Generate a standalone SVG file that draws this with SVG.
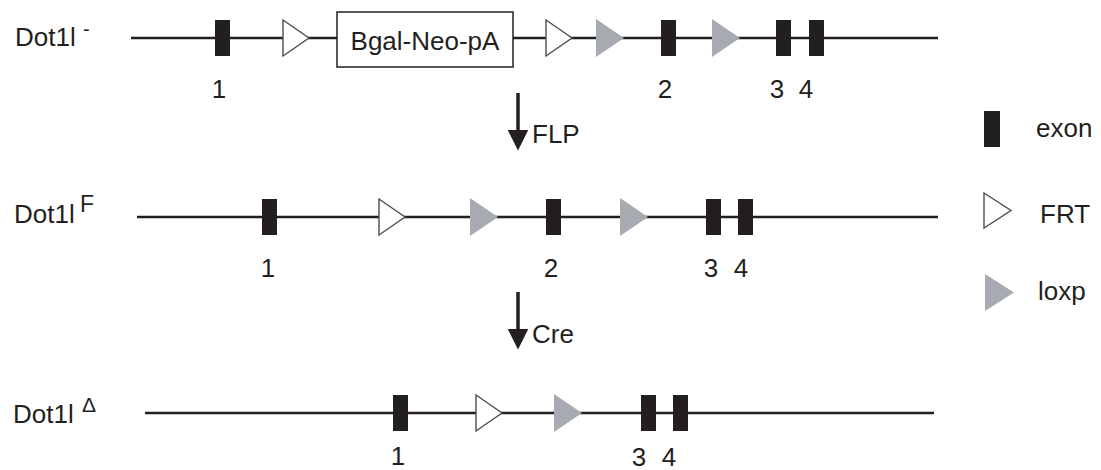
<svg xmlns="http://www.w3.org/2000/svg" xmlns:xlink="http://www.w3.org/1999/xlink" width="1101" height="470" viewBox="0 0 1101 470">
<style>
.t{font-family:"Liberation Sans",Arial,sans-serif;font-size:26px;fill:#231f20}
.dna{stroke:#231f20;stroke-width:2.6;fill:none}
.exon{fill:#231f20}
.frt{fill:#fff;stroke:#4d4d4d;stroke-width:1.4;stroke-linejoin:miter}
.loxp{fill:#a7abb1}
.arr{stroke:#231f20;stroke-width:3.5;fill:none}
</style>
<defs>
<rect id="ex" x="0" y="-18" width="15" height="36" class="exon"/>
<polygon id="frt" points="0,-18 26,0 0,18" class="frt"/>
<polygon id="lox" points="0,-19 28,0 0,19" class="loxp"/>
<marker id="ah" markerWidth="6" markerHeight="6" refX="3" refY="3" orient="auto" markerUnits="strokeWidth">
<path d="M0,0 L6,3 L0,6 Z" fill="#231f20"/>
</marker>
</defs>

<g id="row1">
<text class="t" x="15" y="46">Dot1l<tspan x="83" y="36" style="font-size:20px">-</tspan></text>
<line class="dna" x1="131" y1="38" x2="938" y2="38"/>
<use xlink:href="#ex" x="215" y="38"/>
<use xlink:href="#frt" x="283" y="38"/>
<rect x="337" y="12" width="176" height="55" fill="#fff" stroke="#231f20" stroke-width="1.5"/>
<text class="t" x="425" y="50" text-anchor="middle">Bgal-Neo-pA</text>
<use xlink:href="#frt" x="546" y="38"/>
<use xlink:href="#lox" x="596" y="38"/>
<use xlink:href="#ex" x="661" y="38"/>
<use xlink:href="#lox" x="712" y="38"/>
<use xlink:href="#ex" x="776" y="38"/>
<use xlink:href="#ex" x="809" y="38"/>
<text class="t" x="219" y="98" text-anchor="middle">1</text>
<text class="t" x="665" y="98" text-anchor="middle">2</text>
<text class="t" x="777" y="98" text-anchor="middle">3</text>
<text class="t" x="806" y="98" text-anchor="middle">4</text>
</g>

<g id="row2">
<text class="t" x="14" y="223">Dot1l<tspan x="80" y="212" style="font-size:23px">F</tspan></text>
<line class="dna" x1="137" y1="217" x2="938" y2="217"/>
<use xlink:href="#ex" x="262" y="217"/>
<use xlink:href="#frt" x="379" y="217"/>
<use xlink:href="#lox" x="470" y="217"/>
<use xlink:href="#ex" x="546" y="217"/>
<use xlink:href="#lox" x="620" y="217"/>
<use xlink:href="#ex" x="706" y="217"/>
<use xlink:href="#ex" x="738" y="217"/>
<text class="t" x="268" y="277" text-anchor="middle">1</text>
<text class="t" x="551" y="277" text-anchor="middle">2</text>
<text class="t" x="711" y="277" text-anchor="middle">3</text>
<text class="t" x="741" y="277" text-anchor="middle">4</text>
</g>

<g id="row3">
<text class="t" x="13" y="423">Dot1l<tspan x="82" y="412" style="font-size:21px">Δ</tspan></text>
<line class="dna" x1="145" y1="413" x2="934" y2="413"/>
<use xlink:href="#ex" x="393" y="413"/>
<use xlink:href="#frt" x="476" y="413"/>
<use xlink:href="#lox" x="554" y="413"/>
<use xlink:href="#ex" x="641" y="413"/>
<use xlink:href="#ex" x="673" y="413"/>
<text class="t" x="398" y="465" text-anchor="middle">1</text>
<text class="t" x="639" y="466" text-anchor="middle">3</text>
<text class="t" x="669" y="466" text-anchor="middle">4</text>
</g>

<g id="connectors">
<g id="flp">
<line class="arr" x1="518" y1="93" x2="518" y2="140" marker-end="url(#ah)"/>
<text class="t" x="532" y="143">FLP</text>
</g>
<g id="cre">
<line class="arr" x1="518" y1="292" x2="518" y2="339" marker-end="url(#ah)"/>
<text class="t" x="532" y="343">Cre</text>
</g>
</g>

<g id="legend">
<g id="leg-exon">
<rect x="984" y="111" width="16" height="36" class="exon"/>
<text class="t" x="1036" y="137">exon</text>
</g>
<g id="leg-frt">
<polygon points="984,193 1011,210.5 984,228" class="frt"/>
<text class="t" x="1040" y="223">FRT</text>
</g>
<g id="leg-loxp">
<polygon points="985,274 1014,292.5 985,311" class="loxp"/>
<text class="t" x="1038" y="300">loxp</text>
</g>
</g>
</svg>
